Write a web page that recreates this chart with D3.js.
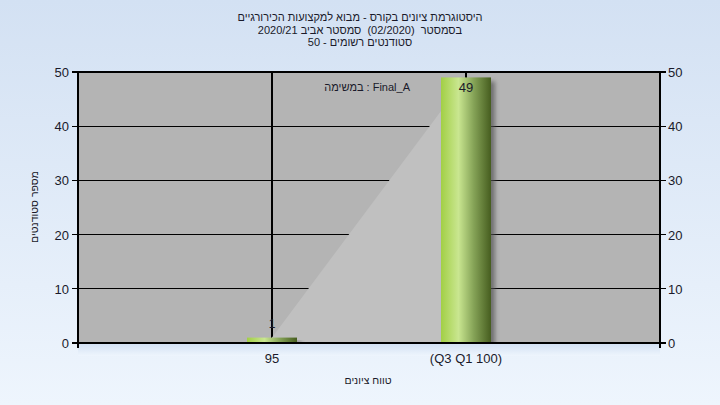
<!DOCTYPE html>
<html><head><meta charset="utf-8">
<script src="https://cdn.jsdelivr.net/npm/d3@7"></script>
<style>html,body{margin:0;padding:0;}svg{display:block;}text{white-space:pre;}</style>
</head><body>
<svg id="c" width="720" height="405"></svg>
<script>
const titleLines = ["היסטוגרמת ציונים בקורס - מבוא למקצועות הכירורגיים", "בסמסטר  (02/2020)  סמסטר אביב 2020/21", "סטודנטים רשומים - 50"];
const categories = ["95", "(Q3 Q1 100)"];
const counts = [1, 49];
const yTicks = [0, 10, 20, 30, 40, 50];
const yTitle = "מספר סטודנטים";
const xTitle = "טווח ציונים";
const taskLabel = "במשימה : Final_A";

const svg = d3.select("#c");
const font = "'Liberation Sans','DejaVu Sans',Arial,sans-serif";
const defs = svg.append("defs");
const bg = defs.append("linearGradient").attr("id","bg").attr("x1",0).attr("y1",0).attr("x2",0).attr("y2",1);
bg.append("stop").attr("offset","0").attr("stop-color","#d3e1f3");
bg.append("stop").attr("offset","1").attr("stop-color","#eef5fd");
const bar = defs.append("linearGradient").attr("id","bar").attr("x1",0).attr("y1",0).attr("x2",1).attr("y2",0);
bar.append("stop").attr("offset","0").attr("stop-color","#a2cf45");
bar.append("stop").attr("offset","0.35").attr("stop-color","#c9e690");
bar.append("stop").attr("offset","0.65").attr("stop-color","#86a458");
bar.append("stop").attr("offset","1").attr("stop-color","#465d1f");
const sh = defs.append("filter").attr("id","sh").attr("x","-20%").attr("y","-20%").attr("width","150%").attr("height","150%");
sh.append("feGaussianBlur").attr("stdDeviation",2);

svg.append("rect").attr("width",720).attr("height",405).attr("fill","url(#bg)");

const L = 78, R = 660, T = 72, B = 343;
const x = d3.scaleLinear().domain([0, categories.length + 1]).range([L, R]);
const y = d3.scaleLinear().domain([0, 50]).range([B, T]);
const bw = 50;

svg.append("rect").attr("x",L).attr("y",T).attr("width",R-L).attr("height",B-T).attr("fill","#b4b4b4");

// gridlines
svg.append("g").selectAll("line").data(yTicks).join("line")
  .attr("x1",L-6).attr("x2",R+6).attr("y1",d=>y(d)).attr("y2",d=>y(d))
  .attr("stroke","#000").attr("stroke-width",1.3).attr("shape-rendering","crispEdges");
svg.append("g").selectAll("line").data(categories).join("line")
  .attr("x1",(d,i)=>x(i+1)).attr("x2",(d,i)=>x(i+1)).attr("y1",T).attr("y2",B+5)
  .attr("stroke","#000").attr("stroke-width",1.3).attr("shape-rendering","crispEdges");

// area between bar tops
const area = d3.area().x((d,i)=>x(i+1)).y0(y(0)).y1(d=>y(d));
svg.append("path").datum(counts).attr("d",area).attr("fill","#c0c0c0");

// value label for small bar
svg.append("g").selectAll("text").data(counts.map((v,i)=>({v,i})).filter(d=>d.v<=5)).join("text")
  .attr("x",d=>x(d.i+1)).attr("y",d=>y(d.v)-10)
  .attr("text-anchor","middle").attr("font-family",font).attr("font-size",12).attr("fill","#1a1a2a")
  .text(d=>d.v);

// shadows
svg.append("g").selectAll("rect").data(counts).join("rect")
  .attr("x",(d,i)=>x(i+1)-bw/2+4).attr("y",d=>y(d)+4).attr("width",bw).attr("height",d=>y(0)-y(d))
  .attr("fill","#555").attr("opacity",0.7).attr("filter","url(#sh)");
svg.append("rect").attr("x",L).attr("y",B+1).attr("width",R-L).attr("height",12).attr("fill","url(#bg)");

// bars
svg.append("g").selectAll("rect").data(counts).join("rect")
  .attr("x",(d,i)=>x(i+1)-bw/2).attr("y",d=>y(d)).attr("width",bw).attr("height",d=>y(0)-y(d))
  .attr("fill","url(#bar)");
svg.append("g").selectAll("text").data(counts.map((v,i)=>({v,i})).filter(d=>d.v>5)).join("text")
  .attr("x",d=>x(d.i+1)).attr("y",d=>y(d.v)+15)
  .attr("text-anchor","middle").attr("font-family",font).attr("font-size",13).attr("fill","#1a1a2a")
  .text(d=>d.v);

// axes frame
const ax = svg.append("g").attr("stroke","#000").attr("stroke-width",1.3).attr("shape-rendering","crispEdges");
ax.append("line").attr("x1",L).attr("x2",L).attr("y1",T).attr("y2",B+5);
ax.append("line").attr("x1",R).attr("x2",R).attr("y1",T).attr("y2",B+5);
ax.append("line").attr("x1",L).attr("x2",R).attr("y1",B).attr("y2",B);
ax.append("line").attr("x1",L).attr("x2",R).attr("y1",T).attr("y2",T);

// tick labels
const tl = svg.append("g").attr("font-family",font).attr("font-size",13).attr("fill","#1a1a2a");
tl.selectAll(".yl").data(yTicks).join("text").attr("x",L-9).attr("y",d=>y(d)+5).attr("text-anchor","end").text(d=>d);
tl.selectAll(".yr").data(yTicks).join("text").attr("x",R+8).attr("y",d=>y(d)+5).attr("text-anchor","start").text(d=>d);
tl.selectAll(".xl").data(categories).join("text").attr("x",(d,i)=>x(i+1)).attr("y",B+20).attr("text-anchor","middle")
  .attr("direction","ltr").text(d=>d);

// titles
const tt = svg.append("g").attr("font-family",font).attr("font-size",11).attr("fill","#1a1a2a").attr("text-anchor","middle");
tt.selectAll("text").data(titleLines).join("text").attr("x",360).attr("y",(d,i)=>21+i*12.5).attr("direction","rtl").attr("unicode-bidi","embed").text(d=>d);
svg.append("text").attr("x",368).attr("y",384).attr("text-anchor","middle").attr("font-family",font).attr("font-size",10.5).attr("fill","#1a1a2a").attr("direction","rtl").text(xTitle);
svg.append("text").attr("transform","translate(38,207) rotate(-90)").attr("text-anchor","middle").attr("font-family",font).attr("font-size",10.5).attr("fill","#1a1a2a").attr("direction","rtl").text(yTitle);
svg.append("text").attr("x",410).attr("y",91).attr("text-anchor","end").attr("font-family",font).attr("font-size",11).attr("fill","#1a1a2a").attr("direction","ltr").text(taskLabel);
</script>
</body></html>
